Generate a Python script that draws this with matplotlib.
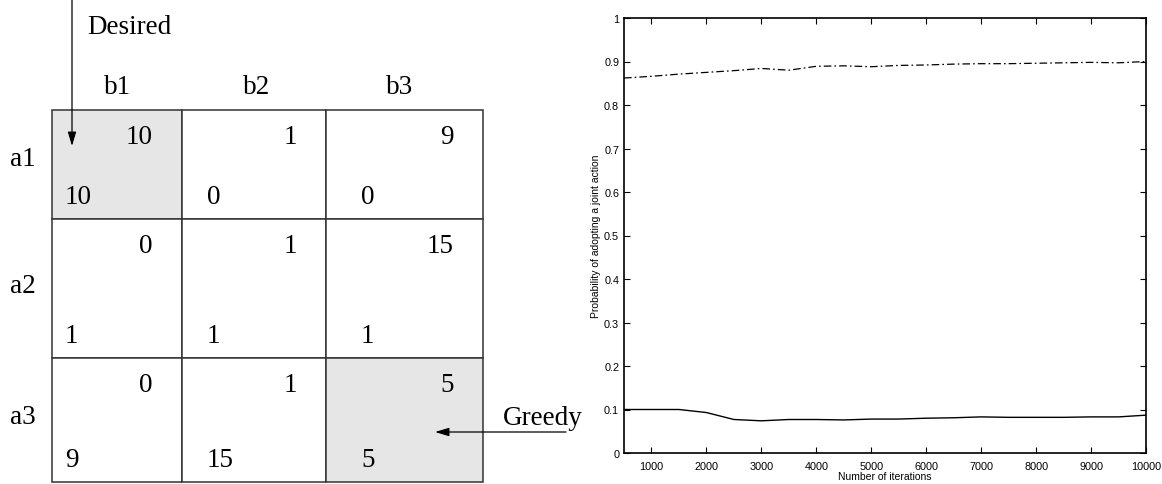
import matplotlib
matplotlib.use("Agg")
import matplotlib.pyplot as plt
from matplotlib.patches import Rectangle

# ---------------- data ----------------
row_labels = ["a1", "a2", "a3"]
col_labels = ["b1", "b2", "b3"]
payoff_top = [[10, 1, 9], [0, 1, 15], [0, 1, 5]]      # upper-right numbers
payoff_bottom = [[10, 0, 0], [1, 1, 1], [9, 15, 5]]   # lower-left numbers
highlight_cells = [(0, 0), (2, 2)]
annot_desired = "Desired"
annot_greedy = "Greedy"

iterations = [500, 1000, 1500, 2000, 2500, 3000, 3500, 4000, 4500, 5000,
              5500, 6000, 6500, 7000, 7500, 8000, 8500, 9000, 9500, 10000]
prob_desired = [0.862, 0.866, 0.871, 0.875, 0.879, 0.884, 0.880, 0.889, 0.890, 0.888,
                0.891, 0.892, 0.894, 0.895, 0.895, 0.896, 0.897, 0.898, 0.897, 0.900]
prob_greedy = [0.100, 0.100, 0.100, 0.093, 0.077, 0.074, 0.077, 0.077, 0.076, 0.078,
               0.078, 0.080, 0.081, 0.083, 0.082, 0.082, 0.082, 0.083, 0.083, 0.087]
x_ticks = [1000, 2000, 3000, 4000, 5000, 6000, 7000, 8000, 9000, 10000]
y_ticks = [0, 0.1, 0.2, 0.3, 0.4, 0.5, 0.6, 0.7, 0.8, 0.9, 1]
y_tick_labels = ["0", "0.1", "0.2", "0.3", "0.4", "0.5", "0.6", "0.7", "0.8", "0.9", "1"]
x_label = "Number of iterations"
y_label = "Probability of adopting a joint action"

# ---------------- layout (pixel-like units of the left panel) ----------------
col_edges = [52, 182, 326, 483]
row_edges = [111, 220, 359, 483]
top_dx = 29
top_dy = 27
bottom_dx = [13, 25, 35]
bottom_dy = 22

plt.rcParams["lines.scale_dashes"] = False
serif = ["Liberation Serif", "DejaVu Serif"]
sans = ["Liberation Sans", "DejaVu Sans"]

fig = plt.figure(figsize=(11.62, 4.85), dpi=100)

# ---------------- left: payoff matrix ----------------
ax0 = fig.add_axes([0, 0, 590 / 1162, 1])
ax0.set_xlim(0, 590)
ax0.set_ylim(485, 0)
ax0.axis("off")

fs = 19.5
for i in range(len(row_labels)):
    for j in range(len(col_labels)):
        x0, x1 = col_edges[j], col_edges[j + 1]
        y0, y1 = row_edges[i], row_edges[i + 1]
        face = "#e6e6e6" if (i, j) in highlight_cells else "white"
        ax0.add_patch(Rectangle((x0, y0), x1 - x0, y1 - y0, facecolor=face,
                                edgecolor="#333333", linewidth=1.1))
        ax0.text(x1 - top_dx, y0 + top_dy, str(payoff_top[i][j]), ha="right", va="center",
                 fontsize=fs, family=serif)
        ax0.text(x0 + bottom_dx[j], y1 - bottom_dy, str(payoff_bottom[i][j]), ha="left",
                 va="center", fontsize=fs, family=serif)

col_label_x = [118, 257, 400]
for j, lab in enumerate(col_labels):
    ax0.text(col_label_x[j], 88, lab, ha="center", va="center", fontsize=fs, family=serif)
row_label_y = [160, 287, 418]
for i, lab in enumerate(row_labels):
    ax0.text(23, row_label_y[i], lab, ha="center", va="center", fontsize=fs, family=serif)

ax0.text(87, 28, annot_desired, ha="left", va="center", fontsize=fs, family=serif)
ax0.annotate("", xy=(72, 147), xytext=(72, 0),
             arrowprops=dict(arrowstyle="-|>,head_length=0.6,head_width=0.18", color="black",
                             lw=0.9, mutation_scale=14, shrinkA=0, shrinkB=0))
ax0.text(503, 419, annot_greedy, ha="left", va="center", fontsize=fs, family=serif)
ax0.annotate("", xy=(435, 433), xytext=(566, 433),
             arrowprops=dict(arrowstyle="-|>,head_length=0.6,head_width=0.18", color="black",
                             lw=0.9, mutation_scale=14, shrinkA=0, shrinkB=0))

# ---------------- right: line chart ----------------
ax = fig.add_axes([624 / 1162, 31 / 485, (1146 - 624) / 1162, (454 - 19) / 485])
ax.plot(iterations, prob_desired, color="black", lw=0.9, linestyle=(0, (5.5, 2.2, 1.2, 2.2)))
ax.plot(iterations, prob_greedy, color="black", lw=1.0, linestyle="-")
ax.set_xlim(500, 10000)
ax.set_ylim(0, 1)
ax.set_xticks(x_ticks)
ax.set_xticklabels([str(t) for t in x_ticks])
ax.set_yticks(y_ticks)
ax.set_yticklabels(y_tick_labels)
ax.tick_params(direction="in", top=True, right=True, length=4, width=0.8,
               labelsize=7.8)
ax.tick_params(axis="x", pad=6)
ax.tick_params(axis="y", pad=3.5)
for lab in ax.get_xticklabels() + ax.get_yticklabels():
    lab.set_family(sans)
for sp in ax.spines.values():
    sp.set_linewidth(1.2)
ax.set_xlabel(x_label, fontsize=7.5, family=sans, labelpad=-0.5)
ax.set_ylabel(y_label, fontsize=7.5, family=sans, labelpad=2)

fig.savefig("out.png", dpi=100)
